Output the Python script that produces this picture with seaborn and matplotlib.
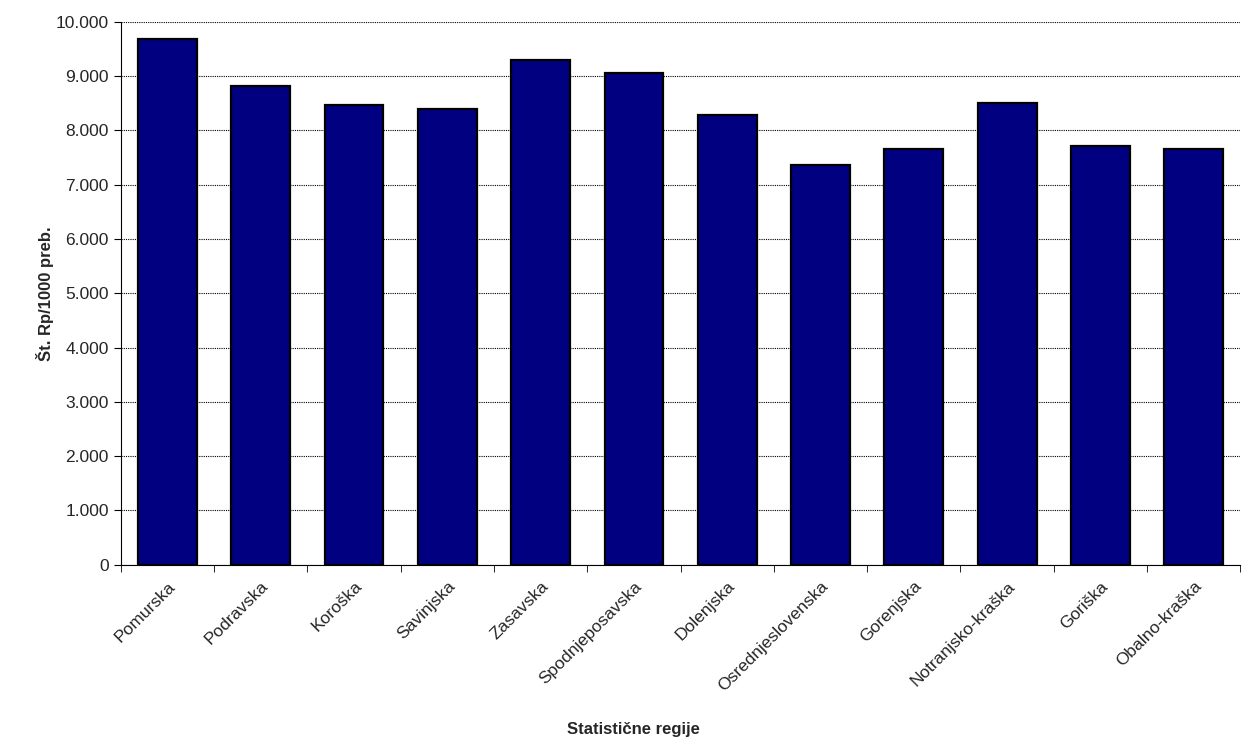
import matplotlib
matplotlib.use("Agg")
import matplotlib.pyplot as plt
import seaborn as sns
import pandas as pd
import numpy as np
from matplotlib.ticker import FuncFormatter, FixedLocator

regions = [
    "Pomurska", "Podravska", "Koroška", "Savinjska", "Zasavska",
    "Spodnjeposavska", "Dolenjska", "Osrednjeslovenska", "Gorenjska",
    "Notranjsko-kraška", "Goriška", "Obalno-kraška",
]
rp_per_1000 = [9690, 8825, 8470, 8400, 9290, 9050, 8290, 7370, 7660, 8500, 7715, 7665]

sns.set_style("white")
plt.rcParams["font.family"] = ["Liberation Sans", "DejaVu Sans"]

df = pd.DataFrame({"regija": regions, "vrednost": rp_per_1000})

fig = plt.figure(figsize=(12.58, 7.49), dpi=100)
ax = fig.add_axes([0.096, 0.246, 0.89, 0.725])

sns.barplot(data=df, x="regija", y="vrednost", color="#000080",
            edgecolor="black", linewidth=1.6, width=0.63, saturation=1, ax=ax)

ax.set_ylim(0, 10000)
ax.set_xlim(-0.5, len(regions) - 0.5)
ax.set_yticks(np.arange(0, 10001, 1000))
ax.yaxis.set_major_formatter(FuncFormatter(lambda v, p: f"{int(v):,}".replace(",", ".")))
ax.grid(axis="y", color="black", linestyle=(0, (1, 1)), linewidth=0.8)
ax.set_axisbelow(True)

for s in ["top", "right"]:
    ax.spines[s].set_visible(False)
ax.spines["left"].set_color("black")
ax.spines["bottom"].set_color("black")

ax.xaxis.set_minor_locator(FixedLocator(np.arange(-0.5, len(regions), 1)))
ax.tick_params(axis="x", which="major", length=0, labelsize=12.5, pad=10)
ax.tick_params(axis="x", which="minor", length=5, color="black", bottom=True)
ax.tick_params(axis="y", left=True, length=5, color="black", labelsize=12.5)
plt.setp(ax.get_xticklabels(), rotation=45, ha="right", rotation_mode="anchor")

ax.set_xlabel("Statistične regije", fontsize=12, fontweight="bold")
ax.set_ylabel("Št. Rp/1000 preb.", fontsize=12, fontweight="bold")
ax.xaxis.set_label_coords(0.458, -0.29)
ax.yaxis.set_label_coords(-0.06, 0.5)

fig.savefig("out.png", dpi=100)
